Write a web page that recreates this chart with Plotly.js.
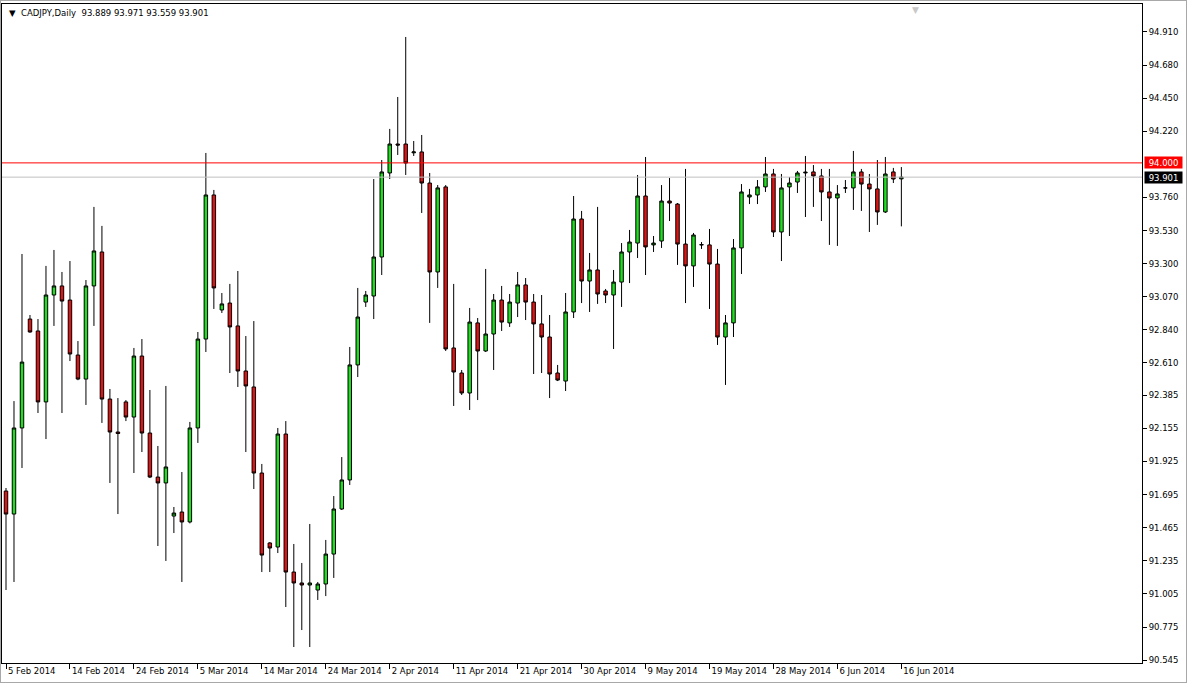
<!DOCTYPE html>
<html>
<head>
<meta charset="utf-8">
<script src="https://cdn.plot.ly/plotly-3.0.1.min.js"></script>
<style>
  html, body { margin: 0; padding: 0; background: #ffffff; }
  #chart { width: 1187px; height: 683px; box-sizing: border-box; border: 1px solid #a8a8a8; }
</style>
</head>
<body>
<div id="chart"></div>
<script>
// ---- Data (CADJPY, Daily) ----
const dates = [
  '2014-02-05','2014-02-06','2014-02-07','2014-02-09','2014-02-10','2014-02-11','2014-02-12','2014-02-13','2014-02-14','2014-02-16',
  '2014-02-17','2014-02-18','2014-02-19','2014-02-20','2014-02-21','2014-02-23','2014-02-24','2014-02-25','2014-02-26','2014-02-27',
  '2014-02-28','2014-03-02','2014-03-03','2014-03-04','2014-03-05','2014-03-06','2014-03-07','2014-03-09','2014-03-10','2014-03-11',
  '2014-03-12','2014-03-13','2014-03-14','2014-03-16','2014-03-17','2014-03-18','2014-03-19','2014-03-20','2014-03-21','2014-03-23',
  '2014-03-24','2014-03-25','2014-03-26','2014-03-27','2014-03-28','2014-03-30','2014-03-31','2014-04-01','2014-04-02','2014-04-03',
  '2014-04-04','2014-04-06','2014-04-07','2014-04-08','2014-04-09','2014-04-10','2014-04-11','2014-04-13','2014-04-14','2014-04-15',
  '2014-04-16','2014-04-17','2014-04-18','2014-04-20','2014-04-21','2014-04-22','2014-04-23','2014-04-24','2014-04-25','2014-04-27',
  '2014-04-28','2014-04-29','2014-04-30','2014-05-01','2014-05-02','2014-05-04','2014-05-05','2014-05-06','2014-05-07','2014-05-08',
  '2014-05-09','2014-05-11','2014-05-12','2014-05-13','2014-05-14','2014-05-15','2014-05-16','2014-05-18','2014-05-19','2014-05-20',
  '2014-05-21','2014-05-22','2014-05-23','2014-05-25','2014-05-26','2014-05-27','2014-05-28','2014-05-29','2014-05-30','2014-06-01',
  '2014-06-02','2014-06-03','2014-06-04','2014-06-05','2014-06-06','2014-06-08','2014-06-09','2014-06-10','2014-06-11','2014-06-12',
  '2014-06-13','2014-06-15','2014-06-16'
];

const open = [
  91.720, 91.560, 92.158, 92.915, 92.832, 92.339, 93.082, 93.145, 93.047, 92.665,
  92.498, 93.145, 93.381, 92.359, 92.130, 92.339, 92.234, 92.658, 92.123, 91.817,
  91.776, 91.546, 91.574, 91.505, 92.158, 92.776, 93.777, 92.978, 93.026, 92.867,
  92.554, 92.443, 91.845, 91.359, 91.331, 92.116, 91.157, 91.081, 91.067, 91.032,
  91.074, 91.282, 91.595, 91.797, 92.596, 93.033, 93.075, 93.346, 93.930, 94.131,
  94.131, 94.070, 94.076, 93.860, 93.242, 93.833, 92.714, 92.540, 92.401, 92.888,
  92.693, 92.811, 93.047, 92.888, 93.026, 93.152, 93.033, 92.881, 92.790, 92.540,
  92.484, 92.964, 93.610, 93.179, 93.256, 93.110, 93.082, 93.172, 93.381, 93.443,
  93.770, 93.430, 93.457, 93.735, 93.714, 93.436, 93.284, 93.430, 93.430, 93.297,
  92.790, 92.888, 93.409, 93.763, 93.777, 93.833, 93.923, 93.520, 93.833, 93.867,
  93.930, 93.937, 93.909, 93.798, 93.756, 93.826, 93.826, 93.937, 93.853, 93.819,
  93.659, 93.937, 93.889
];
const high = [
  91.741, 92.345, 93.367, 92.943, 92.915, 93.284, 93.395, 93.242, 93.318, 92.762,
  93.186, 93.694, 93.562, 92.429, 92.366, 92.352, 92.714, 92.776, 92.422, 92.033,
  92.450, 91.609, 91.852, 92.200, 92.825, 94.069, 93.812, 93.096, 93.159, 93.249,
  92.797, 92.901, 91.908, 91.365, 92.158, 92.206, 91.352, 91.220, 91.491, 91.088,
  91.380, 91.685, 91.956, 92.721, 93.131, 93.110, 93.888, 94.020, 94.236, 94.458,
  94.875, 94.152, 94.194, 93.930, 93.846, 93.846, 93.159, 92.561, 92.992, 92.922,
  93.263, 93.089, 93.145, 93.089, 93.242, 93.200, 93.089, 93.082, 92.943, 92.596,
  93.096, 93.770, 93.666, 93.374, 93.694, 93.124, 93.256, 93.443, 93.534, 93.916,
  94.041, 93.492, 93.846, 93.895, 93.721, 93.958, 93.513, 93.450, 93.541, 93.402,
  92.943, 93.471, 93.853, 93.819, 93.881, 94.041, 93.958, 93.923, 93.902, 93.944,
  94.048, 93.985, 93.958, 93.958, 93.846, 93.881, 94.083, 93.958, 93.923, 94.020,
  94.041, 93.965, 93.971
];
const low = [
  91.032, 91.088, 91.880, 92.820, 92.262, 92.081, 92.867, 92.262, 92.623, 92.490,
  92.318, 92.867, 92.193, 91.776, 91.560, 92.206, 91.845, 91.991, 91.810, 91.338,
  91.234, 91.428, 91.088, 91.495, 92.054, 92.686, 92.985, 92.957, 92.540, 92.443,
  91.991, 91.734, 91.157, 91.157, 91.289, 90.914, 90.636, 90.754, 90.636, 90.963,
  90.990, 91.116, 91.588, 91.762, 92.512, 92.999, 92.915, 93.221, 93.888, 94.055,
  93.916, 94.048, 93.652, 92.888, 93.131, 92.693, 92.311, 92.387, 92.283, 92.352,
  92.686, 92.561, 92.832, 92.860, 92.929, 92.908, 92.533, 92.540, 92.366, 92.484,
  92.415, 92.922, 93.026, 92.964, 93.020, 93.026, 92.707, 92.999, 93.165, 93.339,
  93.221, 93.381, 93.409, 93.596, 93.291, 93.026, 93.138, 93.402, 92.985, 92.735,
  92.457, 92.790, 93.228, 93.714, 93.714, 93.798, 93.485, 93.318, 93.492, 93.791,
  93.624, 93.694, 93.596, 93.430, 93.423, 93.791, 93.673, 93.666, 93.520, 93.569,
  93.652, 93.860, 93.559
];
const close = [
  91.560, 92.158, 92.616, 92.825, 92.339, 93.082, 93.145, 93.040, 92.672, 92.498,
  93.145, 93.388, 92.359, 92.130, 92.120, 92.234, 92.658, 92.123, 91.817, 91.776,
  91.887, 91.567, 91.505, 92.158, 92.776, 93.777, 93.131, 93.020, 92.860, 92.554,
  92.450, 91.845, 91.275, 91.324, 92.116, 91.157, 91.081, 91.067, 91.081, 91.074,
  91.282, 91.595, 91.797, 92.596, 92.929, 93.082, 93.346, 93.937, 94.131, 94.124,
  93.999, 94.076, 93.860, 93.242, 93.826, 92.707, 92.547, 92.401, 92.894, 92.693,
  92.811, 93.047, 92.894, 93.033, 93.152, 93.033, 92.881, 92.790, 92.533, 92.491,
  92.964, 93.610, 93.179, 93.256, 93.089, 93.082, 93.172, 93.381, 93.450, 93.770,
  93.416, 93.443, 93.735, 93.721, 93.436, 93.284, 93.499, 93.432, 93.297, 92.790,
  92.888, 93.409, 93.798, 93.777, 93.833, 93.923, 93.520, 93.826, 93.860, 93.930,
  93.935, 93.909, 93.798, 93.756, 93.784, 93.826, 93.937, 93.853, 93.819, 93.659,
  93.923, 93.888, 93.901
];

const yTickVals = [94.910, 94.680, 94.450, 94.220, 93.760, 93.530, 93.300, 93.070, 92.840, 92.610,
                   92.385, 92.155, 91.925, 91.695, 91.465, 91.235, 91.005, 90.775, 90.545];
const levelLine = 94.000;
const bidPrice = 93.901;
const symbolText = 'CADJPY,Daily';
const ohlcText = '93.889 93.971 93.559 93.901';
const months = ['Jan','Feb','Mar','Apr','May','Jun','Jul','Aug','Sep','Oct','Nov','Dec'];
const labelEvery = 8;

// ---- Build ----
function fmtDate(s) {
  const p = s.split('-');
  return parseInt(p[2], 10) + ' ' + months[parseInt(p[1], 10) - 1] + ' ' + p[0];
}
const tickVals = dates.filter((d, i) => i % labelEvery === 0);
const tickText = tickVals.map(fmtDate);

const FONT = 'DejaVu Sans, Tahoma, sans-serif';

const trace = {
  type: 'candlestick',
  x: dates,
  open: open, high: high, low: low, close: close,
  increasing: { line: { color: '#000000', width: 1 }, fillcolor: '#1fe01f' },
  decreasing: { line: { color: '#000000', width: 1 }, fillcolor: '#e01414' },
  whiskerwidth: 0,
  hoverinfo: 'x+text'
};

const layout = {
  width: 1185, height: 681,
  margin: { l: 1, r: 44, t: 3, b: 19, pad: 0 },
  paper_bgcolor: '#ffffff',
  plot_bgcolor: '#ffffff',
  showlegend: false,
  boxgap: 0.38,
  font: { family: FONT, size: 8.5, color: '#000000' },
  xaxis: {
    type: 'category',
    range: [-0.5, 142.1],
    rangeslider: { visible: false },
    showgrid: false, zeroline: false,
    showline: true, linecolor: '#000000', linewidth: 1, mirror: true,
    ticks: 'outside', ticklen: 5, tickcolor: '#000000', tickwidth: 1,
    tickmode: 'array', tickvals: tickVals, ticktext: tickText,
    tickangle: 0,
    ticklabelposition: 'outside right',
    ticklabelshift: 1,
    tickfont: { family: FONT, size: 8.5, color: '#000000' },
    fixedrange: true
  },
  yaxis: {
    side: 'right',
    range: [90.525, 95.104],
    showgrid: false, zeroline: false,
    showline: true, linecolor: '#000000', linewidth: 1, mirror: true,
    ticks: 'outside', ticklen: 4, tickcolor: '#000000', tickwidth: 1,
    tickmode: 'array', tickvals: yTickVals,
    ticktext: yTickVals.map(v => v.toFixed(3)),
    tickfont: { family: FONT, size: 8.5, color: '#000000' },
    fixedrange: true
  },
  shapes: [
    { type: 'line', xref: 'paper', x0: 0, x1: 1, yref: 'y', y0: bidPrice, y1: bidPrice,
      line: { color: '#c0c0c0', width: 1 } },
    { type: 'line', xref: 'paper', x0: 0, x1: 1, yref: 'y', y0: levelLine, y1: levelLine,
      line: { color: '#ff0000', width: 1 } }
  ],
  annotations: [
    { xref: 'paper', yref: 'paper', x: 0, y: 1, xanchor: 'left', yanchor: 'top',
      xshift: 5, yshift: -2, showarrow: false,
      text: '▼  ' + symbolText + '  ' + ohlcText,
      font: { family: FONT, size: 8.5, color: '#000000' } },
    { xref: 'paper', yref: 'y', x: 1, y: levelLine, xanchor: 'left', yanchor: 'middle',
      xshift: 2, showarrow: false, text: levelLine.toFixed(3),
      bgcolor: '#ff0000', borderpad: 0, width: 37, height: 11,
      font: { family: FONT, size: 8.5, color: '#ffffff' } },
    { xref: 'paper', yref: 'y', x: 1, y: bidPrice, xanchor: 'left', yanchor: 'middle',
      xshift: 2, showarrow: false, text: bidPrice.toFixed(3),
      bgcolor: '#000000', borderpad: 0, width: 37, height: 11,
      font: { family: FONT, size: 8.5, color: '#ffffff' } },
    { xref: 'paper', yref: 'paper', x: 0.801, y: 1, xanchor: 'center', yanchor: 'top',
      yshift: 1, showarrow: false, text: '▼',
      font: { family: FONT, size: 9, color: '#c8c8c8' } }
  ]
};

Plotly.newPlot('chart', [trace], layout, { displayModeBar: false, staticPlot: true });
</script>
</body>
</html>
